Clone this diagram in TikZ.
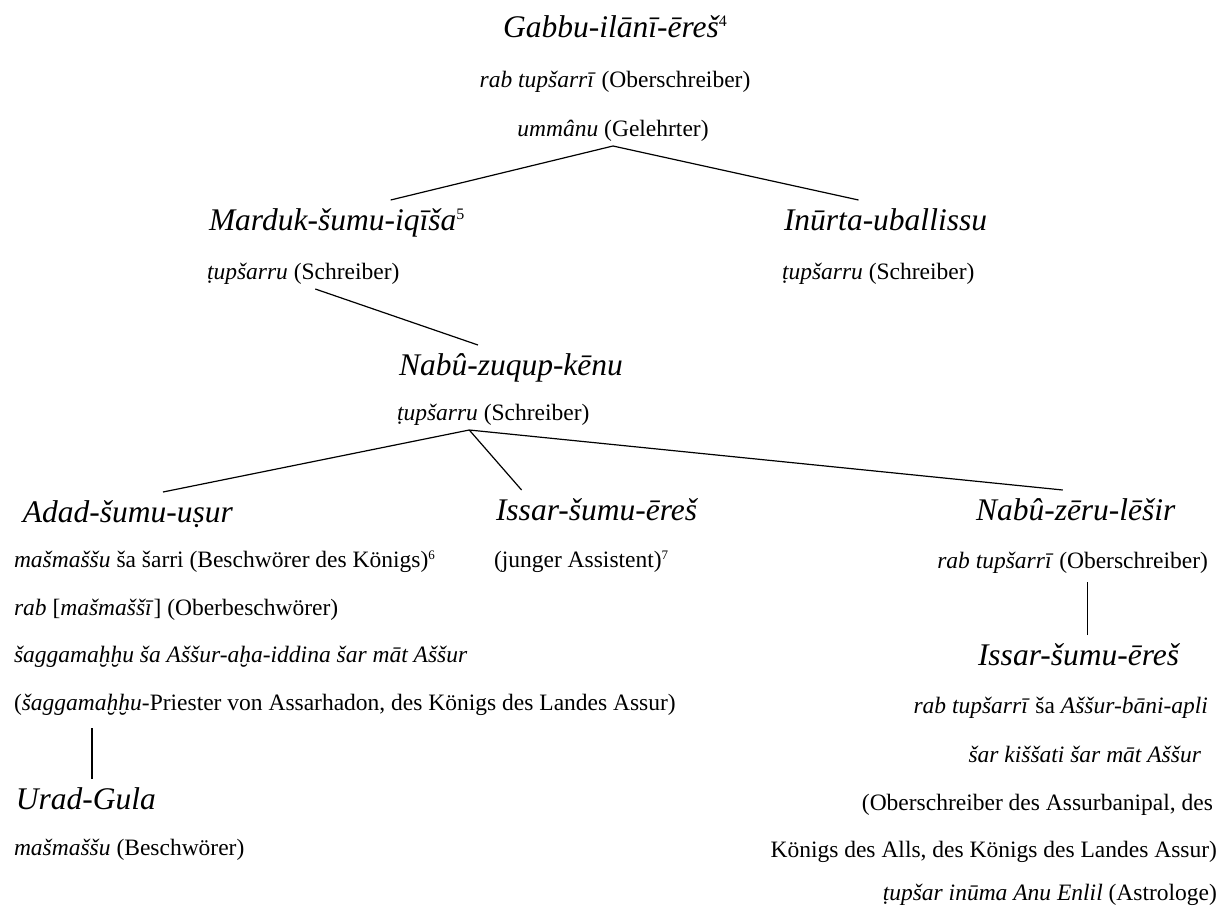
\documentclass[tikz,border=0pt]{standalone}
\usepackage{fontspec}
\setmainfont{Liberation Serif}
\usepackage{tikz}
\usetikzlibrary{positioning, calc}

% footnote marks as printed in the tree
\newcommand{\namenote}[1]{\raisebox{5.2pt}{\fontsize{8}{8}\selectfont\upshape #1}}
\newcommand{\rolenote}[1]{\raisebox{3.8pt}{\fontsize{6.5}{7}\selectfont\upshape #1}}

\tikzset{
  person/.style={inner sep=0pt, outer sep=3pt, text height=12pt, text depth=4pt,
    font=\fontsize{15.75}{18}\selectfont\itshape},
  role/.style={inner sep=0pt, outer sep=2pt, text height=9pt, text depth=3pt,
    font=\fontsize{11.75}{14}\selectfont},
  link/.style={draw=black, line width=0.6pt}
}

\begin{document}
\begin{tikzpicture}[x=0.5pt, y=-0.5pt]
\useasboundingbox (0,0) rectangle (1228,906);

% Gabbu-ilani-eresh
\node[person, anchor=base] (gabbu) at (615,37) {Gabbu-ilānī-ēreš\namenote{4}};
\node[role, anchor=base] (gabbuA) at (615,87) {\textit{rab tupšarrī} (Oberschreiber)};
\node[role, anchor=base] (gabbuB) at (613,136) {\textit{ummânu} (Gelehrter)};

% second generation
\node[person, anchor=base west] (marduk) at (203,230) {Marduk-šumu-iqīša\namenote{5}};
\node[role, anchor=base west] (mardukA) at (203,279) {\textit{ṭupšarru} (Schreiber)};
\node[person, anchor=base west] (inurta) at (778,230) {Inūrta-uballissu};
\node[role, anchor=base west] (inurtaA) at (778,279) {\textit{ṭupšarru} (Schreiber)};

% Nabu-zuqup-kenu
\node[person, anchor=base west] (zuqup) at (393,375) {Nabû-zuqup-kēnu};
\node[role, anchor=base west] (zuqupA) at (393,420) {\textit{ṭupšarru} (Schreiber)};

% sons of Nabu-zuqup-kenu
\node[person, anchor=base west] (adad) at (17,522) {Adad-šumu-uṣur};
\node[role, anchor=base west] (adadA) at (10,567) {\textit{mašmaššu} ša šarri (Beschwörer des Königs)\rolenote{6}};
\node[role, anchor=base west] (adadB) at (10,615) {\textit{rab} [\textit{mašmaššī}] (Oberbeschwörer)};
\node[role, anchor=base west] (adadC) at (10,662) {\textit{šaggamaḫḫu ša Aššur-aḫa-iddina šar māt Aššur}};
\node[role, anchor=base west] (adadD) at (10,710) {(\textit{šaggamaḫḫu}-Priester von Assarhadon, des Königs des Landes Assur)};

\node[person, anchor=base west] (issar) at (490,520) {Issar-šumu-ēreš};
\node[role, anchor=base west] (issarA) at (490,567) {(junger Assistent)\rolenote{7}};

\node[person, anchor=base west] (zeru) at (970,520) {Nabû-zēru-lēšir};
\node[role, anchor=base east] (zeruA) at (1212,568) {\textit{rab tupšarrī} (Oberschreiber)};

% grandsons
\node[person, anchor=base west] (urad) at (10,809) {Urad-Gula};
\node[role, anchor=base west] (uradA) at (10,855) {\textit{mašmaššu} (Beschwörer)};

\node[person, anchor=base west] (issarII) at (972,665) {Issar-šumu-ēreš};
\node[role, anchor=base east] (issarIIa) at (1212,713) {\textit{rab tupšarrī} ša \textit{Aššur-bāni-apli}};
\node[role, anchor=base east] (issarIIb) at (1205,762) {\textit{šar kiššati šar māt Aššur}};
\node[role, anchor=base east] (issarIIc) at (1217,810) {(Oberschreiber des Assurbanipal, des};
\node[role, anchor=base east] (issarIId) at (1221,857) {Königs des Alls, des Königs des Landes Assur)};
\node[role, anchor=base east] (issarIIe) at (1221,900) {\textit{ṭupšar inūma Anu Enlil} (Astrologe)};

% lines of descent
\draw[link] (gabbuB.south) -- ([xshift=27pt]marduk.north);
\draw[link] (gabbuB.south) -- ([xshift=-13.5pt]inurta.north);
\draw[link] ([xshift=6pt]mardukA.south) -- ([xshift=-16.5pt]zuqup.north);
\draw[link] ([xshift=-12pt]zuqupA.south) -- ([xshift=17.5pt]adad.north);
\draw[link] ([xshift=-12pt]zuqupA.south) -- ([xshift=-37.5pt]issar.north);
\draw[link] ([xshift=-12pt]zuqupA.south) -- ([xshift=-6.5pt]zeru.north);
\draw[link, shorten >=4pt] ([xshift=3pt]urad.north) -- ([xshift=3pt]urad.north |- adadD.south);
\draw[link, shorten >=2pt] ([xshift=4.5pt]issarII.north) -- ([xshift=4.5pt]issarII.north |- zeruA.south);
\end{tikzpicture}
\end{document}
